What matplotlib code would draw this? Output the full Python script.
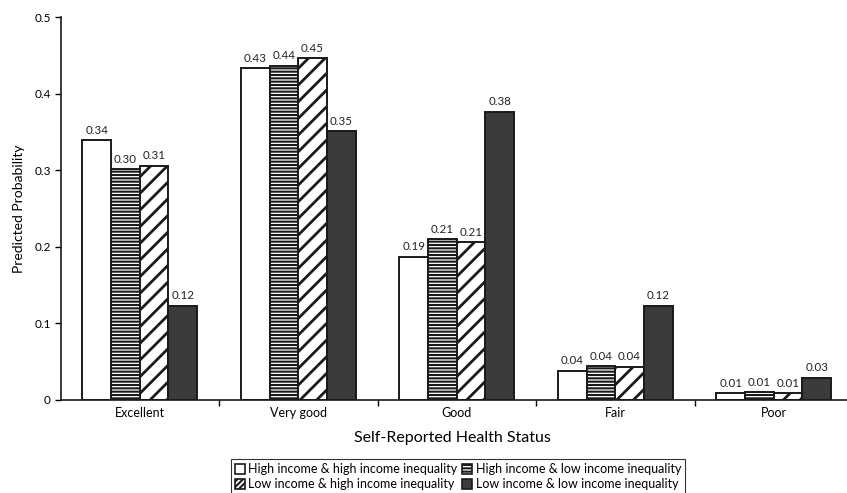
import numpy as np
import matplotlib
matplotlib.use("Agg")
import matplotlib.pyplot as plt
from matplotlib.patches import Patch

# data
categories = ["Excellent", "Very good", "Good", "Fair", "Poor"]
series_names = ["High income & high income inequality",
                "High income & low income inequality",
                "Low income & high income inequality",
                "Low income & low income inequality"]
hi_hi = [0.339, 0.433, 0.187, 0.038, 0.009]
hi_lo = [0.301, 0.436, 0.210, 0.044, 0.010]
lo_hi = [0.306, 0.446, 0.206, 0.043, 0.009]
lo_lo = [0.123, 0.351, 0.376, 0.123, 0.029]
y_ticks = [0, 0.1, 0.2, 0.3, 0.4, 0.5]
y_tick_labels = ["0", "0.1", "0.2", "0.3", "0.4", "0.5"]

plt.rcParams["font.family"] = ["Lato", "DejaVu Sans"]
plt.rcParams["hatch.linewidth"] = 1.5

fig = plt.figure(figsize=(8.47, 4.93), dpi=100)
ax = fig.add_axes([60.5 / 847, 1 - 400 / 493, 792.5 / 847, 383 / 493])

x = np.arange(len(categories))
w = 0.181
styles = [dict(color="white", hatch=None, hlw=1.5, lh=None),
          dict(color="white", hatch="-----", hlw=1.5, lh="-----"),
          dict(color="white", hatch="//", hlw=2.0, lh="//////"),
          dict(color="#3b3b3b", hatch=None, hlw=1.5, lh=None)]
proxies = []
for i, (vals, st) in enumerate(zip([hi_hi, hi_lo, lo_hi, lo_lo], styles)):
    with plt.rc_context({"hatch.linewidth": st["hlw"]}):
        ax.bar(x + (i - 1.5) * w, vals, w, color=st["color"], hatch=st["hatch"],
               edgecolor="#1a1a1a", linewidth=1.4, label=series_names[i], zorder=2)
        proxies.append(Patch(facecolor=st["color"], hatch=st["lh"],
                             edgecolor="#1a1a1a", linewidth=1.2))
    for xi, v in zip(x + (i - 1.5) * w, vals):
        ax.text(xi, v + 0.006, "%.2f" % v, ha="center", va="bottom",
                fontsize=8.3, color="#222222")

ax.set_xlim(-0.5, 4.5)
ax.set_ylim(0, 0.5)
ax.set_yticks(y_ticks)
ax.set_yticklabels(y_tick_labels)
ax.set_xticks(x)
ax.set_xticklabels(categories)
ax.set_xticks([0.5, 1.5, 2.5, 3.5], minor=True)
ax.tick_params(axis="x", which="major", length=0, pad=5, labelsize=9)
ax.tick_params(axis="x", which="minor", length=4, width=1, direction="out")
ax.tick_params(axis="y", length=4, width=1, direction="out", labelsize=8.5, pad=3)
for s in ["top", "right"]:
    ax.spines[s].set_visible(False)
for s in ["left", "bottom"]:
    ax.spines[s].set_linewidth(1.2)
    ax.spines[s].set_color("#1a1a1a")

ax.set_ylabel("Predicted Probability", fontsize=10, labelpad=7)
fig.text(452 / 847, 1 - 438 / 493, "Self-Reported Health Status",
         ha="center", va="center", fontsize=11.5)

handles = [proxies[0], proxies[2], proxies[1], proxies[3]]
labels = [series_names[0], series_names[2], series_names[1], series_names[3]]
leg = fig.legend(handles, labels, loc="upper center",
                 bbox_to_anchor=(458 / 847, 1 - 459 / 493), ncol=2,
                 fontsize=9, frameon=True, fancybox=False, edgecolor="black",
                 handlelength=0.8, handleheight=0.8, handletextpad=0.25,
                 columnspacing=0.4, labelspacing=0.25, borderpad=0.35,
                 borderaxespad=0)
leg.get_frame().set_linewidth(0.8)

fig.savefig("out.png", dpi=100)
